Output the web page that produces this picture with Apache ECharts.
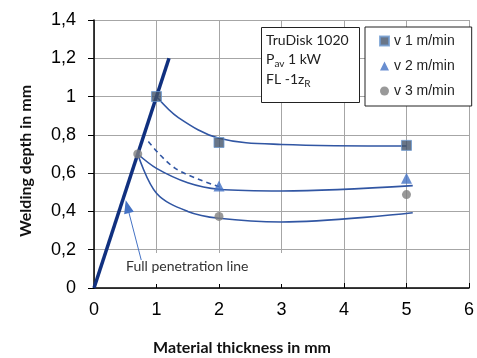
<!DOCTYPE html>
<html><head><meta charset="utf-8">
<script src="https://cdn.jsdelivr.net/npm/echarts@6/dist/echarts.min.js"></script>
<style>html,body{margin:0;padding:0;background:#fff}#c{width:477px;height:358px}</style>
</head><body><div id="c"></div>
<script>
// ---- data ----
const fullPenetration = [[0, 0], [1.2, 1.2]];
const v1Points = [[1, 1.0], [2, 0.76], [5, 0.745]];
const v2Points = [[2, 0.533], [5, 0.573]];
const v3Points = [[0.7, 0.70], [2, 0.374], [5, 0.488]];
const v1Trend = [[1, 1.0], [1.35, 0.89], [2, 0.782], [3, 0.75], [5, 0.742]];
const v2Trend = [[0.7, 0.7], [1, 0.625], [1.5, 0.55], [2, 0.516], [3, 0.507], [5.1, 0.535]];
const v3Trend = [[0.7, 0.7], [1, 0.495], [1.5, 0.40], [2, 0.364], [3, 0.345], [5.1, 0.393]];
const v2Dashed = [[0.87, 0.765], [1.3, 0.625], [2, 0.53]];
const arrowFrom = [0.756, 0.146];
const arrowTo = [0.534, 0.425];
const legendNames = ['v 1 m/min', 'v 2 m/min', 'v 3 m/min'];

const chart = echarts.init(document.getElementById('c'));
const trendColor = '#3156A3';
const tickFont = 'Liberation Sans, Arial, sans-serif';
const noteFont = 'Lato, Open Sans, sans-serif';

function trend(data, dashed) {
  return {
    type: 'line', data: data, smooth: 0.35, symbol: 'none',
    lineStyle: { color: trendColor, width: 1.6, type: dashed ? [5, 4] : 'solid' },
    silent: true, z: 3, legendHoverLink: false
  };
}

chart.setOption({
  animation: false,
  grid: { left: 94, right: 4, top: 20, bottom: 70 },
  xAxis: {
    type: 'value', min: 0, max: 6, interval: 1,
    axisLine: { lineStyle: { color: '#000', width: 1.5 } },
    axisTick: { show: true, inside: true, length: 5, lineStyle: { color: '#000' } },
    axisLabel: { fontFamily: tickFont, fontSize: 18, color: '#000', margin: 13 },
    splitLine: { show: true, lineStyle: { color: '#A6A6A6', width: 1 } }
  },
  yAxis: {
    type: 'value', min: 0, max: 1.4, interval: 0.2,
    axisLine: { show: true, lineStyle: { color: '#000', width: 1.5 } },
    axisTick: { show: true, length: 6, lineStyle: { color: '#000' } },
    axisLabel: {
      fontFamily: tickFont, fontSize: 18, color: '#000', margin: 18,
      formatter: v => String(Math.round(v * 10) / 10).replace('.', ',')
    },
    splitLine: { show: true, lineStyle: { color: '#A6A6A6', width: 1 } }
  },
  legend: {
    data: legendNames, orient: 'vertical', left: 365, top: 27,
    padding: [7, 17, 8, 14], itemGap: 11, itemWidth: 9, itemHeight: 9,
    borderColor: '#222', borderWidth: 1, backgroundColor: '#fff',
    textStyle: { fontFamily: tickFont, fontSize: 14, color: '#222' }
  },
  graphic: [
    { type: 'rect', shape: { x: 120, y: 253, width: 170, height: 31 }, style: { fill: '#fff' }, z: 1, silent: true },
    { type: 'text', left: 126, top: 259, z: 2, style: { text: 'Full penetration line', font: '14px ' + noteFont, fill: '#333' } },
    { type: 'rect', shape: { x: 261.5, y: 27.5, width: 98, height: 75 }, style: { fill: '#fff', stroke: '#222', lineWidth: 1 }, z: 5 },
    {
      type: 'text', left: 266, top: 33, z: 6,
      style: {
        text: '{a|TruDisk 1020}\n{a|P}{s|av}{a| 1 kW}\n{a|FL -1z}{s|R}',
        rich: {
          a: { font: '14px ' + noteFont, fill: '#222', lineHeight: 19.5 },
          s: { font: '10px ' + noteFont, fill: '#222', lineHeight: 19.5, verticalAlign: 'bottom', padding: [6, 0, 0, 0] }
        }
      }
    },
    { type: 'text', x: 26, y: 161, rotation: Math.PI / 2, z: 6,
      style: { text: 'Welding depth in mm', font: 'bold 16px ' + noteFont, fill: '#111', align: 'center', verticalAlign: 'middle' } },
    { type: 'text', x: 242, y: 348, z: 6,
      style: { text: 'Material thickness in mm', font: 'bold 16px ' + noteFont, fill: '#111', align: 'center', verticalAlign: 'middle' } }
  ],
  series: [
    { type: 'line', data: fullPenetration, symbol: 'none', lineStyle: { color: '#10307F', width: 3.5 }, z: 4, silent: true },
    trend(v1Trend), trend(v2Trend), trend(v3Trend), trend(v2Dashed, true),
    {
      type: 'line', data: [], silent: true,
      markLine: {
        silent: true, symbol: ['none', 'triangle'], symbolSize: [10, 13], label: { show: false },
        lineStyle: { color: '#4472C4', width: 1, type: 'solid' },
        data: [[{ coord: arrowFrom }, { coord: arrowTo }]]
      }, z: 5
    },
    { name: legendNames[0], type: 'scatter', data: v1Points, symbol: 'rect', symbolSize: 10,
      itemStyle: { color: '#44546A', borderColor: '#6F9BD1', borderWidth: 1 }, z: 10 },
    { name: legendNames[1], type: 'scatter', data: v2Points, symbol: 'triangle', symbolSize: 11,
      itemStyle: { color: '#4472C4' }, z: 10 },
    { name: legendNames[2], type: 'scatter', data: v3Points, symbol: 'circle', symbolSize: 9,
      itemStyle: { color: '#808080' }, z: 10 }
  ]
});
</script></body></html>
